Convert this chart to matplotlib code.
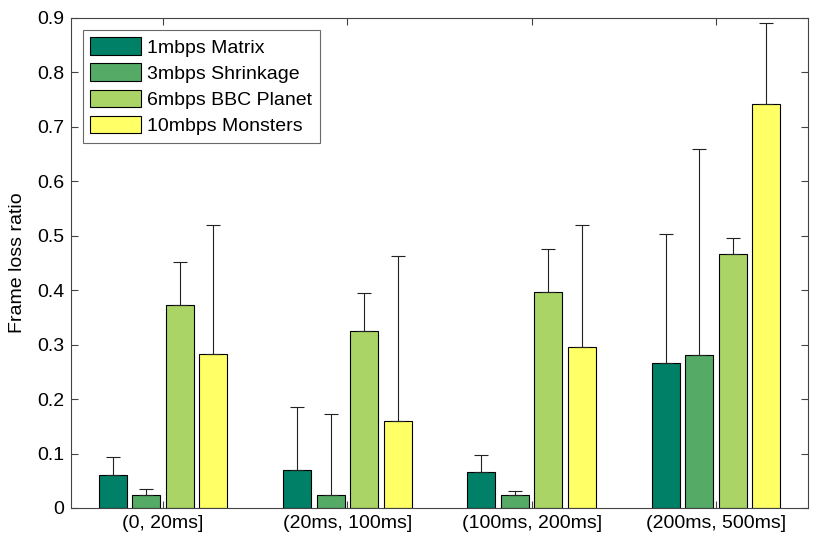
import numpy as np
import matplotlib.pyplot as plt

plt.rcParams['font.family'] = ['Liberation Sans', 'DejaVu Sans']

# Datos
categorias = ['(0, 20ms]', '(20ms, 100ms]', '(100ms, 200ms]', '(200ms, 500ms]']
series = ['1mbps Matrix', '3mbps Shrinkage', '6mbps BBC Planet', '10mbps Monsters']
medias = [
    [0.061, 0.070, 0.066, 0.267],   # 1mbps Matrix
    [0.024, 0.024, 0.024, 0.281],   # 3mbps Shrinkage
    [0.373, 0.325, 0.397, 0.467],   # 6mbps BBC Planet
    [0.283, 0.160, 0.295, 0.742],   # 10mbps Monsters
]
superior = [
    [0.094, 0.186, 0.098, 0.503],
    [0.034, 0.173, 0.031, 0.660],
    [0.452, 0.395, 0.476, 0.496],
    [0.520, 0.463, 0.520, 0.891],
]
colores = ['#008066', '#55aa66', '#aad466', '#ffff66']

fig = plt.figure(figsize=(8.3, 5.41), dpi=100)
ax = fig.add_axes([0.0855, 0.061, 0.888, 0.906])

x = np.arange(1, len(categorias) + 1)
paso = 0.182
ancho = 0.152
for i, nombre in enumerate(series):
    pos = x + (i - 1.5) * paso
    m = np.array(medias[i])
    err = np.array(superior[i]) - m
    ax.bar(pos, m, ancho, color=colores[i], edgecolor='black', linewidth=0.8,
           label=nombre, zorder=2)
    ax.errorbar(pos, m, yerr=[np.zeros_like(err), err], fmt='none',
                ecolor='#222222', elinewidth=0.8, capsize=5, capthick=0.8, zorder=3)

ax.set_xlim(0.5, 4.5)
ax.set_ylim(0, 0.9)
ax.set_xticks(x)
ax.set_xticklabels(categorias)
ax.set_yticks(np.arange(0, 0.91, 0.1))
ax.set_yticklabels(['0'] + ['%.1f' % v for v in np.arange(0.1, 0.91, 0.1)])
ax.tick_params(direction='in', length=5, width=0.8, labelsize=14,
               top=True, right=True, color='#444444', pad=5)
for s in ax.spines.values():
    s.set_color('#444444')
    s.set_linewidth(0.8)
ax.set_ylabel('Frame loss ratio', fontsize=14, labelpad=8)

leg = ax.legend(loc='upper left', fontsize=14, fancybox=False, edgecolor='#444444',
                handlelength=2.6, handleheight=1.0, borderaxespad=0.6,
                labelspacing=0.35, handletextpad=0.3, borderpad=0.4)
leg.get_frame().set_linewidth(0.8)

fig.savefig('out.png', dpi=100)
